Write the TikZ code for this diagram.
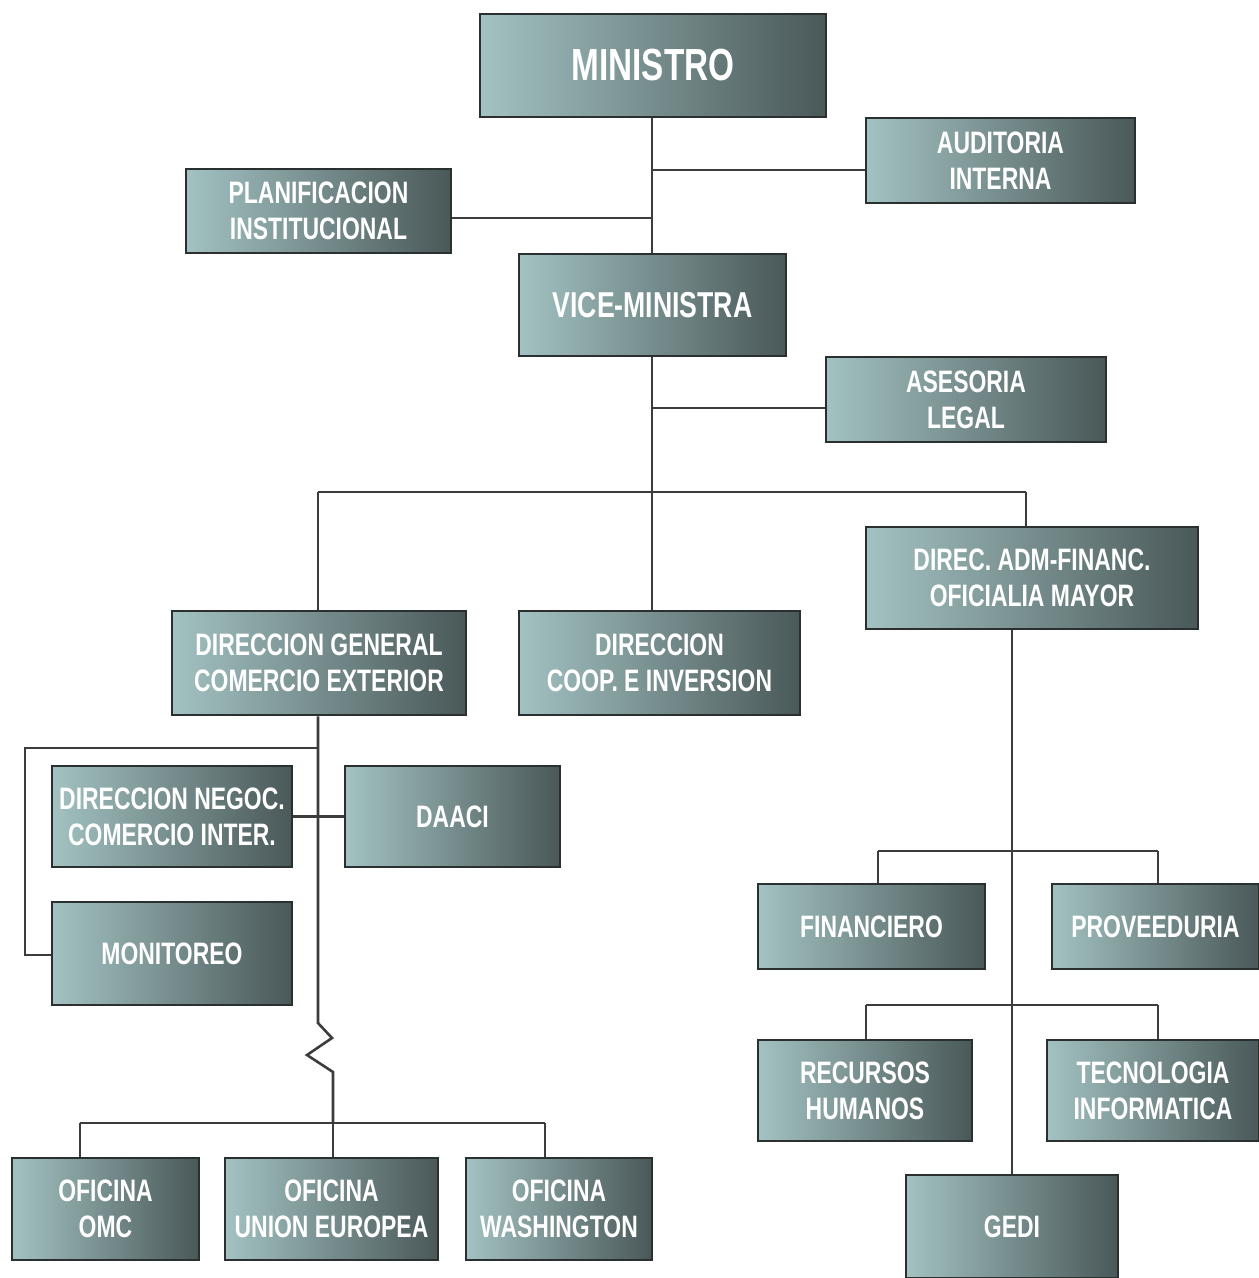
\documentclass[tikz,border=0pt]{standalone}
\usepackage{fontspec}
\newfontfamily\boxfont{Liberation Sans}[FakeStretch=0.74]
\usetikzlibrary{calc}
\definecolor{boxL}{HTML}{A3C2C2}
\definecolor{boxM}{HTML}{718C8C}
\definecolor{boxD}{HTML}{4A5858}
\definecolor{edge}{HTML}{2A3030}
\definecolor{wire}{HTML}{3C3C3C}
\tikzset{
  orgbox/.style={draw=edge, line width=2.5pt, left color=boxL, middle color=boxM, right color=boxD,
    text=white, align=center, inner sep=0pt,
    font=\boxfont\bfseries\fontsize{31}{36}\selectfont},
  wirestyle/.style={draw=wire, line width=2.6pt}
}
\begin{document}
\begin{tikzpicture}[x=1pt,y=-1pt]
\useasboundingbox (0,0) rectangle (1259,1278);
\fill[white] (0,0) rectangle (1259,1278);
% nodes
\node[orgbox, minimum width=346pt, minimum height=103pt, font=\boxfont\bfseries\fontsize{45}{50}\selectfont] (min) at (653,65.5) {MINISTRO};
\node[orgbox, minimum width=269pt, minimum height=85pt] (aud) at (1000.5,160.5) {AUDITORIA\\INTERNA};
\node[orgbox, minimum width=265pt, minimum height=84pt] (plan) at (318.5,211) {PLANIFICACION\\INSTITUCIONAL};
\node[orgbox, minimum width=267pt, minimum height=102pt, font=\boxfont\bfseries\fontsize{36}{40}\selectfont] (vice) at (652.5,305) {VICE-MINISTRA};
\node[orgbox, minimum width=280pt, minimum height=85pt] (ases) at (966,399.5) {ASESORIA\\LEGAL};
\node[orgbox, minimum width=332pt, minimum height=102pt] (daf) at (1032,578) {DIREC. ADM-FINANC.\\OFICIALIA MAYOR};
\node[orgbox, minimum width=294pt, minimum height=104pt] (dgce) at (319,663) {DIRECCION GENERAL\\COMERCIO EXTERIOR};
\node[orgbox, minimum width=281pt, minimum height=104pt] (dci) at (659.5,663) {DIRECCION\\COOP. E INVERSION};
\node[orgbox, minimum width=240pt, minimum height=101pt] (dnci) at (172,816.5) {DIRECCION NEGOC.\\COMERCIO INTER.};
\node[orgbox, minimum width=215pt, minimum height=101pt] (daaci) at (452.5,816.5) {DAACI};
\node[orgbox, minimum width=240pt, minimum height=103pt] (mon) at (172,953.5) {MONITOREO};
\node[orgbox, minimum width=227pt, minimum height=85pt] (fin) at (871.5,926.5) {FINANCIERO};
\node[orgbox, minimum width=207pt, minimum height=85pt] (prov) at (1155.5,926.5) {PROVEEDURIA};
\node[orgbox, minimum width=214pt, minimum height=101pt] (rh) at (865,1090.5) {RECURSOS\\HUMANOS};
\node[orgbox, minimum width=212pt, minimum height=101pt] (tec) at (1153,1090.5) {TECNOLOGIA\\INFORMATICA};
\node[orgbox, minimum width=212pt, minimum height=103pt] (gedi) at (1012,1226.5) {GEDI};
\node[orgbox, minimum width=187pt, minimum height=102pt] (omc) at (105.5,1209) {OFICINA\\OMC};
\node[orgbox, minimum width=213pt, minimum height=102pt] (ue) at (331.5,1209) {OFICINA\\UNION EUROPEA};
\node[orgbox, minimum width=186pt, minimum height=102pt] (wash) at (559,1209) {OFICINA\\WASHINGTON};
% junction coordinates
\coordinate (j1) at (652,170);
\coordinate (j2) at (652,218);
\coordinate (j3) at (652,408);
\coordinate (j4) at (652,492);
\coordinate (jl) at (318,492);
\coordinate (jr) at (1026,492);
\coordinate (k1) at (318,748);
\coordinate (k2) at (25,748);
\coordinate (k3) at (25,955);
\coordinate (z0) at (318,1023);
\coordinate (z1) at (332,1038);
\coordinate (z2) at (307,1055);
\coordinate (z3) at (333,1072);
\coordinate (o1) at (333,1123);
\coordinate (oL) at (80,1123);
\coordinate (oR) at (545,1123);
\coordinate (f1) at (878,851);
\coordinate (f2) at (1158,851);
\coordinate (r1) at (866,1005);
\coordinate (r2) at (1158,1005);
% connectors
\begin{scope}[on background layer/.style={}]
\draw[wirestyle] (min.south -| j1) -- (vice.north -| j1);
\draw[wirestyle] (j1) -- (j1 -| aud.west);
\draw[wirestyle] (plan.east |- j2) -- (j2);
\draw[wirestyle] (vice.south -| j3) -- (j4);
\draw[wirestyle] (j3) -- (j3 -| ases.west);
\draw[wirestyle] (jl) -- (jr);
\draw[wirestyle] (jl) -- (jl |- dgce.north);
\draw[wirestyle] (j4) -- (j4 |- dci.north);
\draw[wirestyle] (jr) -- (jr |- daf.north);
\draw[wirestyle] (dgce.south -| z0) -- (z0) -- (z1) -- (z2) -- (z3) -- (o1);
\draw[wirestyle] (k1) -- (k2) -- (k3) -- (k3 -| mon.west);
\draw[wirestyle] (dnci.east) -- (daaci.west);
\draw[wirestyle] (oL) -- (oR);
\draw[wirestyle] (oL) -- (oL |- omc.north);
\draw[wirestyle] (o1) -- (o1 |- ue.north);
\draw[wirestyle] (oR) -- (oR |- wash.north);
\draw[wirestyle] (daf.south -| gedi.north) -- (gedi.north);
\draw[wirestyle] (f1) -- (f2);
\draw[wirestyle] (f1) -- (f1 |- fin.north);
\draw[wirestyle] (f2) -- (f2 |- prov.north);
\draw[wirestyle] (r1) -- (r2);
\draw[wirestyle] (r1) -- (r1 |- rh.north);
\draw[wirestyle] (r2) -- (r2 |- tec.north);
\end{scope}
\end{tikzpicture}
\end{document}
